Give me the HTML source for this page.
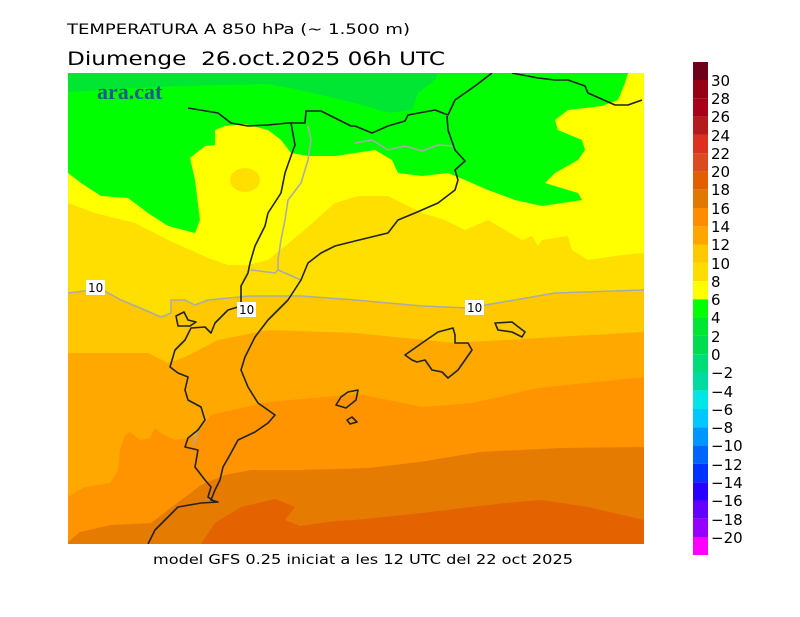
<!DOCTYPE html>
<html><head><meta charset="utf-8"><style>html,body{margin:0;padding:0;background:#fff;width:800px;height:617px;overflow:hidden}</style></head><body>
<svg width="800" height="617" xmlns="http://www.w3.org/2000/svg" font-family="'DejaVu Sans','Liberation Sans',sans-serif">
<rect width="800" height="617" fill="#fff"/>
<text x="67" y="34" font-size="14" textLength="343" lengthAdjust="spacingAndGlyphs">TEMPERATURA A 850 hPa (~ 1.500 m)</text>
<text x="67" y="65" font-size="19" textLength="378" lengthAdjust="spacingAndGlyphs">Diumenge&#160; 26.oct.2025 06h UTC</text>
<clipPath id="c"><rect x="68" y="73" width="576" height="471"/></clipPath>
<g clip-path="url(#c)">
<rect x="68" y="73" width="576" height="471" fill="#e46200"/>
<path fill="#e57b00" d="M68,73 L644,73 L644,520 L588,507 L542,500 L505,503 L422,513 L355,520 L335,521 L300,526 L285,520 L295,507 L275,499 L241,507 L215,523 L201,544 L68,544 Z"/>
<path fill="#ff9300" d="M68,73 L644,73 L644,447 L560,448 L480,452 L420,462 L368,468 L301,470 L251,470 L225,475 L201,485 L188,495 L168,510 L151,523 L111,525 L80,532 L68,542 Z"/>
<path fill="#ffa800" d="M68,73 L644,73 L645,377 L538,388 L472,403 L422,407 L358,394 L268,402 L211,415 L195,437 L175,440 L162,434 L155,428 L150,438 L140,440 L130,432 L125,435 L120,450 L118,470 L110,483 L85,487 L68,497 Z"/>
<path fill="#ffc800" d="M68,73 L644,73 L645,332 L555,337 L455,343 L355,333 L268,330 L218,340 L185,357 L168,363 L148,353 L68,353 Z"/>
<path fill="#ffdf00" d="M68,73 L644,73 L645,290 L555,293 L468,308 L422,306 L355,300 L301,296 L250,296 L208,300 L195,305 L185,300 L171,300 L171,313 L161,317 L138,307 L121,300 L101,289 L68,293 Z"/>
<path fill="#ffff00" d="M68,73 L644,73 L645,253 L622,255 L588,260 L572,250 L568,236 L542,240 L538,246 L532,236 L522,240 L505,230 L488,220 L465,230 L445,220 L422,213 L388,196 L358,196 L335,203 L301,233 L268,260 L248,265 L228,265 L208,258 L168,240 L135,223 L95,213 L68,203 Z"/>
<ellipse cx="245" cy="180" rx="15" ry="12" fill="#ffdf00"/>
<path fill="#00ff00" d="M68,73 L628,73 L625,83 L618,100 L602,106 L568,110 L555,120 L558,130 L582,140 L585,150 L578,160 L555,173 L545,183 L578,193 L582,200 L542,206 L515,200 L488,190 L465,180 L448,173 L422,176 L398,173 L392,160 L375,150 L355,153 L335,156 L308,156 L291,153 L281,140 L268,130 L245,124 L225,126 L215,130 L215,145 L205,146 L190,158 L195,180 L200,220 L195,233 L168,226 L148,213 L128,198 L101,196 L81,183 L68,173 Z"/>
<path fill="#00e632" d="M68,73 L438,73 L435,80 L418,93 L412,110 L388,113 L355,103 L300,90 L268,84 L178,86 L101,90 L68,92 Z"/>
<g fill="none" stroke="#aaaaaa" stroke-width="1.5">
<path d="M68,293 L101,289 L121,300 L138,307 L161,317 L171,313 L171,300 L185,300 L195,305 L208,300 L250,296 L301,296 L355,300 L422,306 L468,308 L555,293 L645,290"/>
<path d="M308,126 L311,140 L308,160 L301,183 L288,200 L285,220 L281,240 L278,260 L278,270 L301,280"/>
<path d="M251,270 L275,273 L278,270"/>
<path d="M355,143 L372,140 L388,150 L405,146 L422,151 L438,145 L455,146"/>
<path d="M198,428 L196,438 L193,445"/>
</g>
<g fill="none" stroke="#222" stroke-width="1.6" stroke-linejoin="round">
<path d="M188,108 L218,113 L231,123 L248,126 L268,125 L288,123 L305,123 L306,111 L321,111 L335,118 L351,126 L355,126 L372,133 L388,126 L405,121 L408,115 L435,110 L448,115 L455,100 L475,86 L492,73"/>
<path d="M512,73 L538,78 L555,80 L568,80 L585,86 L588,93 L615,105 L628,105 L642,100"/>
<path d="M447,116 L448,130 L455,150 L465,161 L455,170 L458,180 L455,190 L438,203 L415,213 L398,220 L388,233 L355,241 L335,246 L321,253 L308,263 L301,280 L288,300 L268,320 L255,337 L245,357 L241,370 L248,387 L258,403 L275,415 L268,423 L255,432 L238,440 L231,453 L223,467 L220,480 L215,490 L211,500 L218,502 L201,503 L178,507 L168,517 L155,530 L148,544"/>
<path d="M291,123 L295,145 L291,156 L285,173 L281,193 L268,213 L265,226 L255,246 L250,263 L248,273 L241,286 L241,306 L228,310 L215,323 L211,333 L205,327 L191,328 L185,340 L175,350 L170,367 L178,373 L188,377 L185,390 L188,400 L201,407 L205,420 L198,430 L188,438 L185,447 L198,450 L195,467 L205,480 L211,487 L208,497 L215,502"/>
<path d="M176,316 L184,312 L188,320 L196,322 L190,326 L178,326 Z"/>
<path d="M405,355 L422,343 L438,332 L453,328 L455,335 L455,343 L468,343 L472,350 L465,360 L458,370 L448,378 L442,372 L432,370 L425,360 L417,362 L412,360 Z"/>
<path d="M495,323 L512,322 L525,332 L522,337 L512,332 L498,330 Z"/>
<path d="M336,405 L341,397 L348,392 L358,390 L356,400 L346,408 Z"/>
<path d="M347,420 L352,417 L357,422 L350,424 Z"/>
</g>
</g>
<text x="97" y="99" font-family="'Liberation Serif',serif" font-weight="bold" font-size="22" fill="#1b5a8c">ara.cat</text>
<g font-size="12">
<rect x="86" y="280" width="19" height="15" fill="#fff"/><text x="88" y="292">10</text>
<rect x="237" y="302" width="19" height="15" fill="#fff"/><text x="239" y="314">10</text>
<rect x="465" y="300" width="19" height="15" fill="#fff"/><text x="467" y="312">10</text>
</g>
<text x="363" y="564" font-size="13" text-anchor="middle" textLength="420" lengthAdjust="spacingAndGlyphs">model GFS 0.25 iniciat a les 12 UTC del 22 oct 2025</text>
<g>
<rect x="693" y="62" width="15" height="18" fill="#6e0019"/>
<rect x="693" y="80" width="15" height="18.3" fill="#960014"/>
<rect x="693" y="98.3" width="15" height="18.3" fill="#a80018"/>
<rect x="693" y="116.6" width="15" height="18.3" fill="#b41c1c"/>
<rect x="693" y="134.8" width="15" height="18.3" fill="#dc3020"/>
<rect x="693" y="153.1" width="15" height="18.3" fill="#dc4a20"/>
<rect x="693" y="171.4" width="15" height="18.3" fill="#e15f00"/>
<rect x="693" y="189.7" width="15" height="18.3" fill="#e17800"/>
<rect x="693" y="208" width="15" height="18.3" fill="#ff8c00"/>
<rect x="693" y="226.2" width="15" height="18.3" fill="#ffa500"/>
<rect x="693" y="244.5" width="15" height="18.3" fill="#ffc800"/>
<rect x="693" y="262.8" width="15" height="18.3" fill="#ffdc00"/>
<rect x="693" y="281.1" width="15" height="18.3" fill="#ffff00"/>
<rect x="693" y="299.4" width="15" height="18.3" fill="#00ff00"/>
<rect x="693" y="317.6" width="15" height="18.3" fill="#00e632"/>
<rect x="693" y="335.9" width="15" height="18.3" fill="#00dc50"/>
<rect x="693" y="354.2" width="15" height="18.3" fill="#00dc78"/>
<rect x="693" y="372.5" width="15" height="18.3" fill="#00dca0"/>
<rect x="693" y="390.8" width="15" height="18.3" fill="#00e6e6"/>
<rect x="693" y="409" width="15" height="18.3" fill="#00c8ff"/>
<rect x="693" y="427.3" width="15" height="18.3" fill="#0096ff"/>
<rect x="693" y="445.6" width="15" height="18.3" fill="#0064ff"/>
<rect x="693" y="463.9" width="15" height="18.3" fill="#0032ff"/>
<rect x="693" y="482.2" width="15" height="18.3" fill="#2800ff"/>
<rect x="693" y="500.4" width="15" height="18.3" fill="#6400ff"/>
<rect x="693" y="518.7" width="15" height="18.3" fill="#9600ff"/>
<rect x="693" y="537" width="15" height="18" fill="#ff00ff"/>
</g>
<g font-size="15" fill="#000">
<text x="711" y="86">30</text><text x="711" y="104">28</text><text x="711" y="122">26</text><text x="711" y="141">24</text><text x="711" y="159">22</text><text x="711" y="177">20</text><text x="711" y="195">18</text><text x="711" y="214">16</text><text x="711" y="232">14</text><text x="711" y="250">12</text><text x="711" y="269">10</text><text x="711" y="287">8</text><text x="711" y="305">6</text><text x="711" y="323">4</text><text x="711" y="342">2</text><text x="711" y="360">0</text><text x="711" y="378">−2</text><text x="711" y="397">−4</text><text x="711" y="415">−6</text><text x="711" y="433">−8</text><text x="711" y="451">−10</text><text x="711" y="470">−12</text><text x="711" y="488">−14</text><text x="711" y="506">−16</text><text x="711" y="525">−18</text><text x="711" y="543">−20</text>
</g>
</svg>
</body></html>
